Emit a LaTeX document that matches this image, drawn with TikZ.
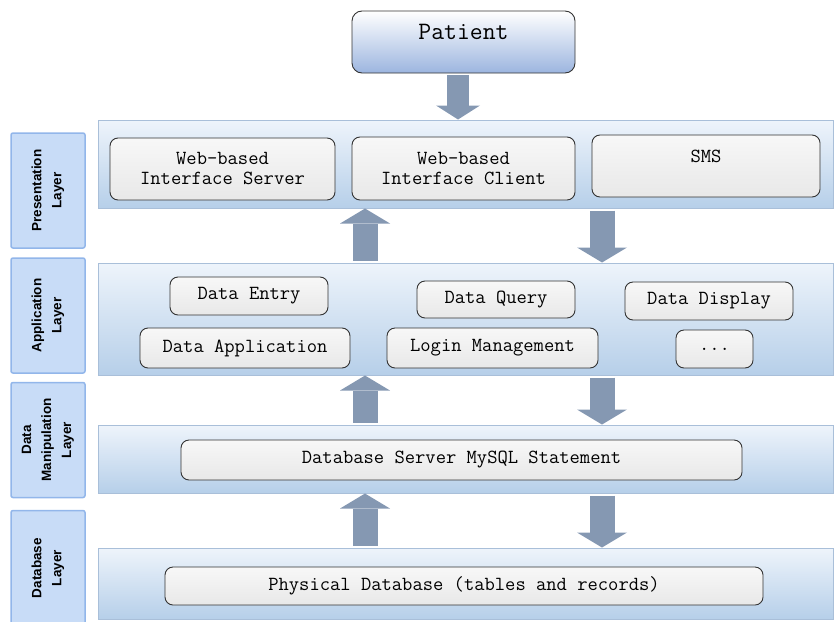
\documentclass[tikz,border=0pt]{standalone}
\usepackage{fontspec}
\setmainfont{Liberation Serif}
\setsansfont{Liberation Sans}
\usetikzlibrary{arrows.meta,positioning}

\definecolor{bandtop}{HTML}{EEF4FB}
\definecolor{bandbot}{HTML}{B6CFE9}
\definecolor{bandline}{HTML}{A9BFD9}
\definecolor{lblfill}{HTML}{C8DCF7}
\definecolor{lblline}{HTML}{92B6EA}
\definecolor{arrowc}{HTML}{8598B2}
\definecolor{patbot}{HTML}{9CB5DF}

\begin{document}
\begin{tikzpicture}[x=1pt,y=-1pt,
  band/.style={draw=bandline,line width=1pt,top color=bandtop,bottom color=bandbot,
               minimum width=735pt,minimum height=#1,inner sep=0pt},
  box/.style={draw=black!80,line width=0.9pt,rounded corners=8pt,
              top color=black!3,middle color=white,bottom color=black!9,
              align=center,inner sep=0pt,font=\ttfamily\fontsize{20}{20}\selectfont},
  lbl/.style={draw=lblline,fill=lblfill,line width=1.5pt,rounded corners=2pt,
              rotate=90,minimum width=115pt,minimum height=74pt,inner sep=0pt,
              align=center,font=\sffamily\bfseries\fontsize{13.5}{20}\selectfont},
  blk/.style={line width=25pt,color=arrowc,shorten <=2pt,
              -{Triangle[width=50pt,length=15pt,line width=0pt]}}
]
\useasboundingbox (0,0) rectangle (834,621);

% top actor
\node[box,top color=white,middle color=white!60!patbot,bottom color=patbot,
      rounded corners=10pt,minimum width=223pt,minimum height=62pt,
      font=\ttfamily\fontsize{25}{20}\selectfont] (patient) at (463.5,42) {Patient\\\mbox{}};

% layer bands
\node[band=88pt] (pres) at (465.5,164) {};
\node[band=112pt] (app) at (465.5,319) {};
\node[band=68pt] (dm) at (465.5,459) {};
\node[band=71pt] (db) at (465.5,583.5) {};

% layer tags on the left
\node[lbl] (presl) at (48,190.5) {Presentation\\Layer};
\node[lbl] (appl) at (48,315.5) {Application\\Layer};
\node[lbl] (dml) at (48,440) {Data\\Manipulation\\Layer};
\node[lbl] (dbl) at (48,568) {Database\\Layer};

% presentation layer
\node[box,minimum width=225pt,minimum height=62pt] (server) at (222.5,169) {Web-based\\Interface Server};
\node[box,minimum width=223pt,minimum height=63pt] (client) at (463.5,168.5) {Web-based\\Interface Client};
\node[box,minimum width=228pt,minimum height=62pt] (sms) at (706,166) {SMS\\\mbox{}};

% application layer
\node[box,minimum width=158pt,minimum height=38pt] (entry) at (249,296) {Data Entry};
\node[box,minimum width=158pt,minimum height=37pt] (query) at (496,299.5) {Data Query};
\node[box,minimum width=168pt,minimum height=38pt] (display) at (709,301) {Data Display};
\node[box,minimum width=210pt,minimum height=40pt] (dapp) at (245,348) {Data Application};
\node[box,minimum width=211pt,minimum height=40pt] (login) at (492.5,348) {Login Management};
\node[box,minimum width=77pt,minimum height=38pt] (more) at (714.5,349) {...};

% data manipulation and database
\node[box,minimum width=561pt,minimum height=40pt] (mysql) at (461.5,460) {Database Server MySQL Statement};
\node[box,minimum width=598pt,minimum height=38pt] (phys) at (464,586) {Physical Database (tables and records)};

% block arrows
\coordinate (patx) at (458,0);
\coordinate (upx) at (365,0);
\coordinate (dnx) at (602,0);

\draw[blk,line width=22pt,-{Triangle[width=44pt,length=14pt,line width=0pt]}]
  (patient.south -| patx) -- (pres.north -| patx);
\draw[blk] (app.north -| upx) -- (pres.south -| upx);
\draw[blk] (pres.south -| dnx) -- (app.north -| dnx);
\draw[blk] (dm.north -| upx) -- (app.south -| upx);
\draw[blk] (app.south -| dnx) -- (dm.north -| dnx);
\draw[blk] (db.north -| upx) -- (dm.south -| upx);
\draw[blk] (dm.south -| dnx) -- (db.north -| dnx);
\end{tikzpicture}
\end{document}
